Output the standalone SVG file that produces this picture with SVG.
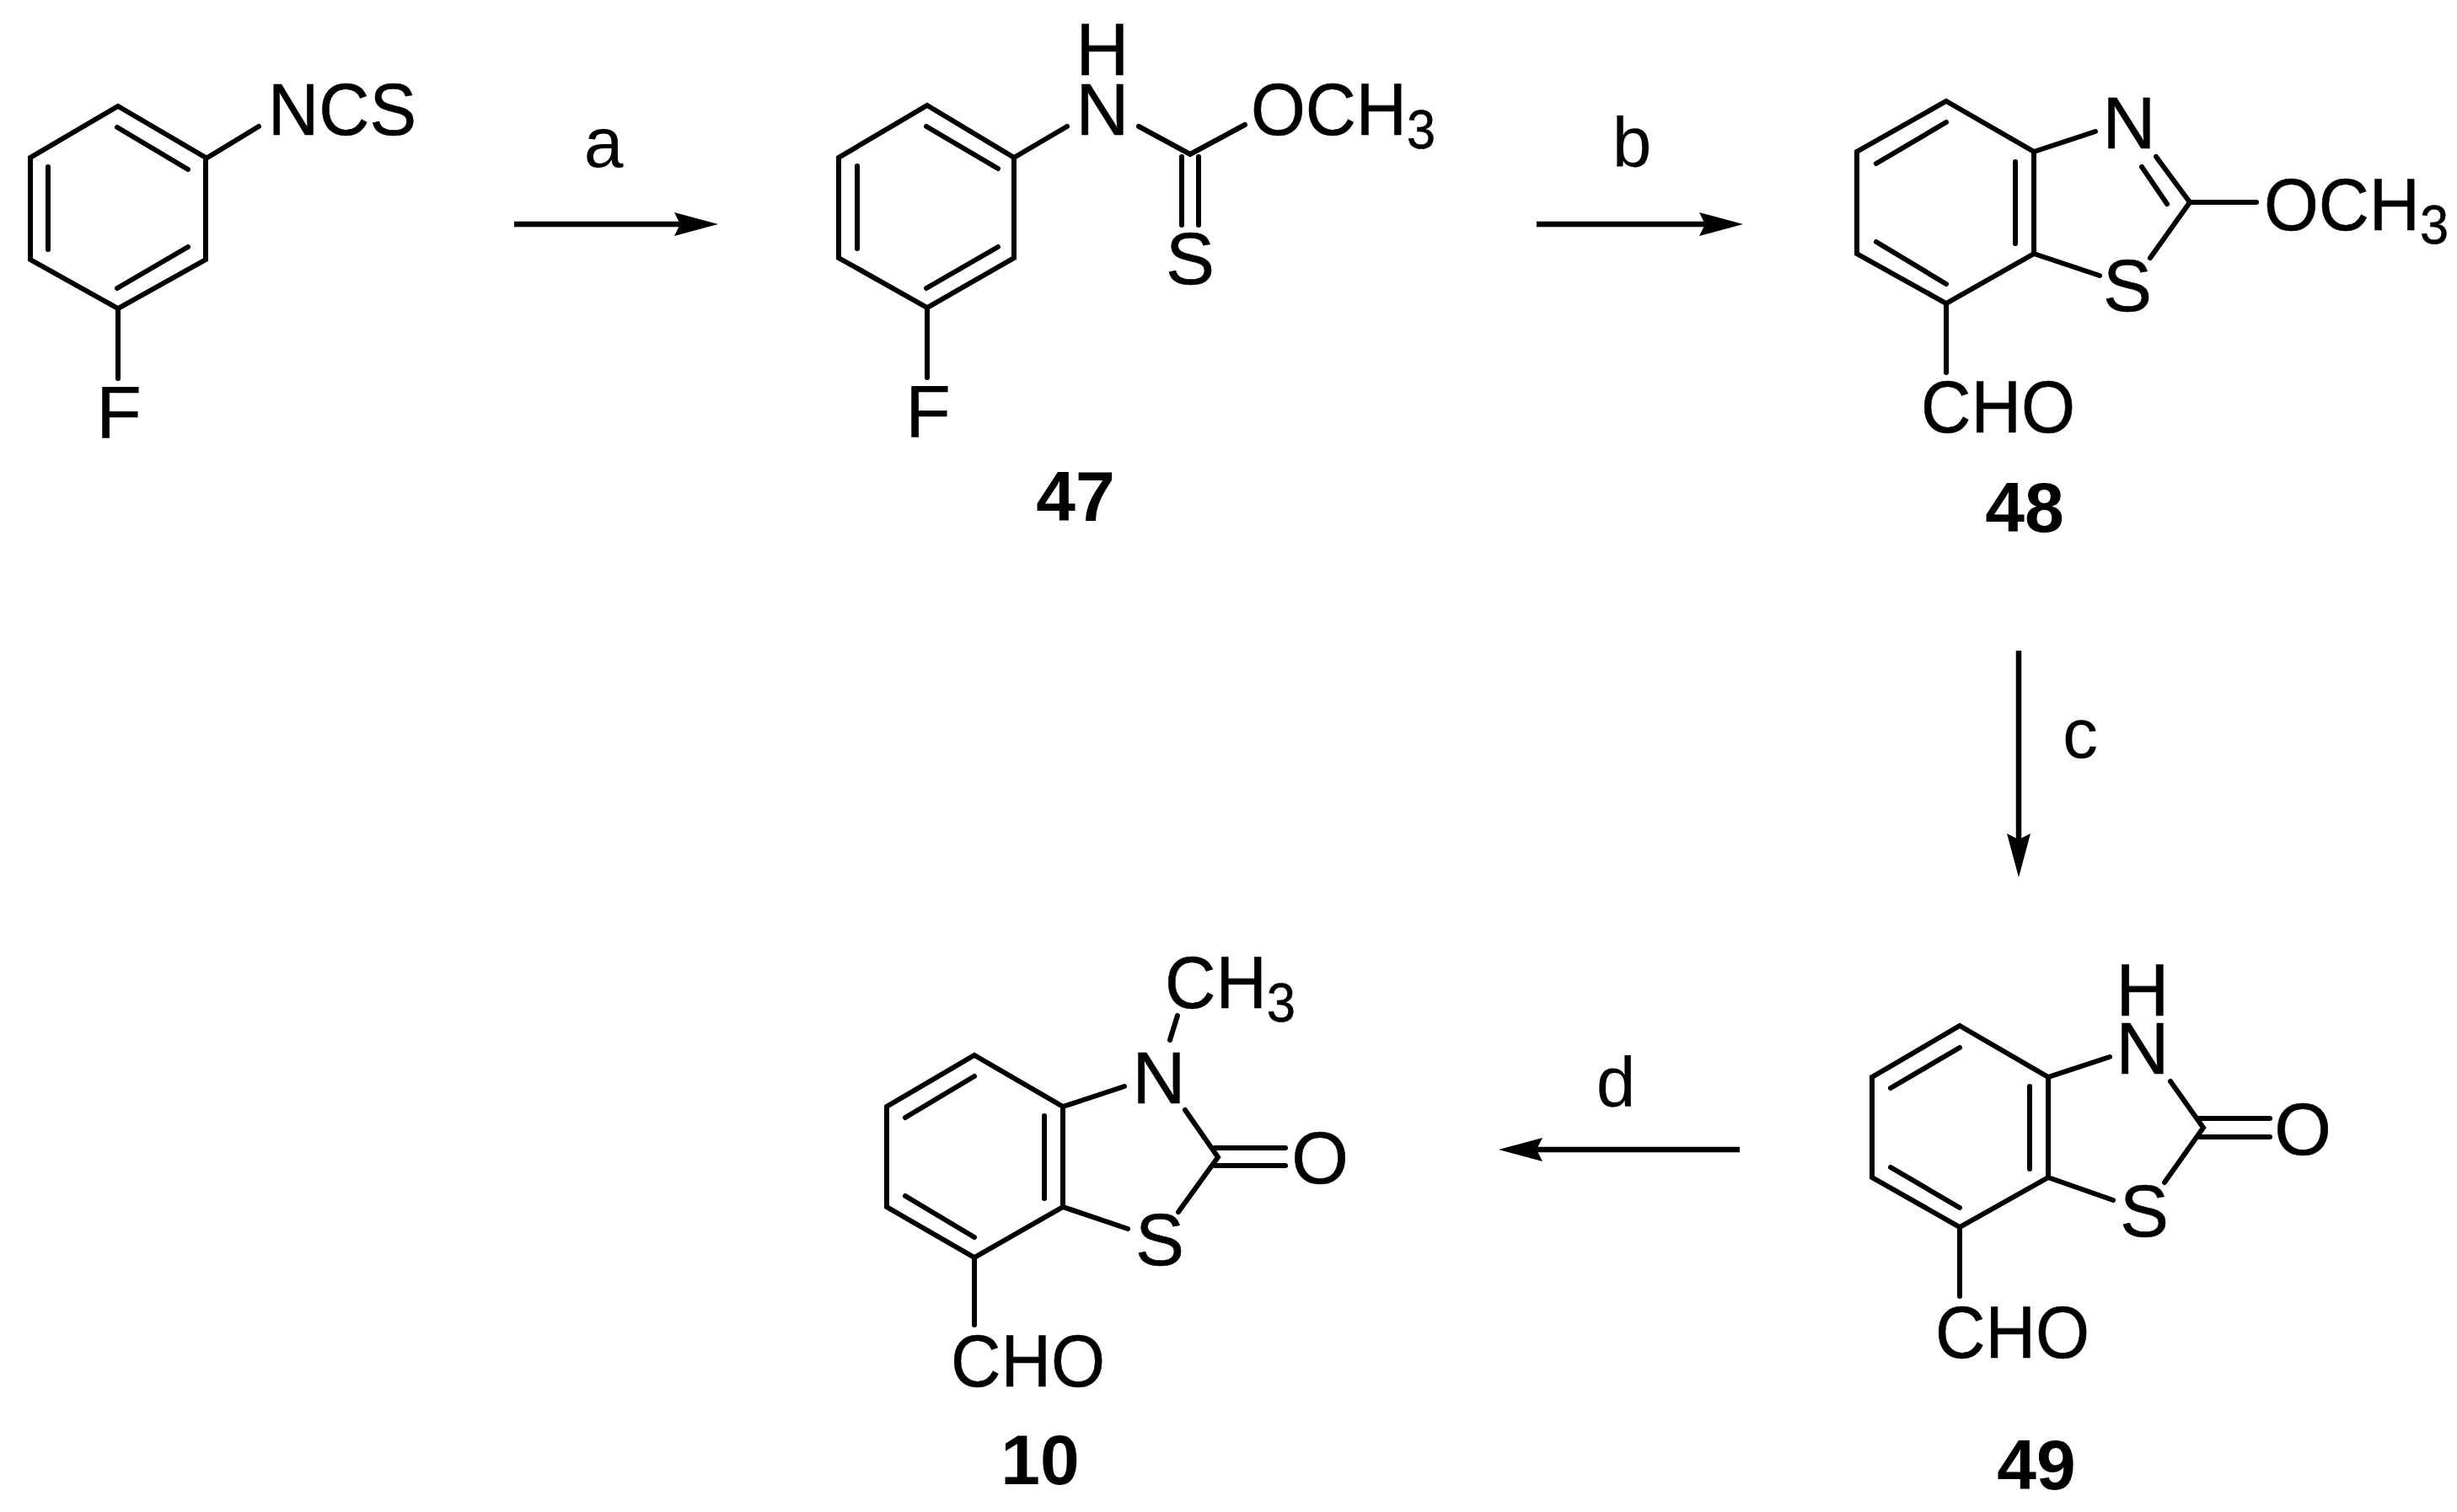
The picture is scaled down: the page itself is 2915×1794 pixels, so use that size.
<svg xmlns="http://www.w3.org/2000/svg" width="2915" height="1794" viewBox="0 0 2915 1794">
<style>
.b{stroke:#000;stroke-width:6;fill:none;stroke-linecap:round;stroke-linejoin:miter}
.a{stroke:#000;stroke-width:6.5;fill:none}
text{font-family:"Liberation Sans",Arial,sans-serif;fill:#000}
.l{font-size:84px;text-anchor:middle}
.t{font-size:87px;stroke:#000;stroke-width:.6px}
.m{font-size:87px;text-anchor:middle;stroke:#000;stroke-width:.6px}
.n{font-size:84px;font-weight:bold;text-anchor:middle}
.s{font-size:64px}
</style>
<defs>
<marker id="head" markerUnits="userSpaceOnUse" markerWidth="52" markerHeight="30" refX="7" refY="14.5" orient="auto">
<path d="M0,0.5 L52,14.5 L0,28.5 L7,14.5 Z" fill="#000"/>
</marker>
</defs>
<rect width="2915" height="1794" fill="#fff"/>
<g id="connectors">
<line class="a" x1="610" y1="266" x2="807" y2="266" marker-end="url(#head)"/>
<line class="a" x1="1823" y1="266" x2="2023" y2="266" marker-end="url(#head)"/>
<line class="a" x1="2395" y1="772" x2="2395" y2="996" marker-end="url(#head)"/>
<line class="a" x1="2064" y1="1364" x2="1823" y2="1364" marker-end="url(#head)"/>
<text class="l" x="716" y="198">a</text>
<text class="l" x="1936" y="198">b</text>
<text class="l" x="2468" y="899">c</text>
<text class="l" x="1917" y="1313">d</text>
</g>
<g id="isothiocyanate">
<path class="b" d="M140,126 L244,187 V308 L140,366 L36,308 V187 Z"/>
<path class="b" d="M139,151 L223,201 M57,198 V296 M223,293 L139,342 M140,366 V449 M246,187 L307,150"/>
<text class="t" x="318" y="160" textLength="176" lengthAdjust="spacingAndGlyphs">NCS</text>
<text class="m" x="141" y="519">F</text>
</g>
<g id="compound-47">
<path class="b" d="M1100,125 L1203,187 V306 L1100,365 L995,306 V187 Z"/>
<path class="b" d="M1099,150 L1184,200 M1017,197 V295 M1184,293 L1099,342 M1100,365 V448 M1203,187 L1266,150 M1351,150 L1412,183 L1477,148 M1402,186 V267 M1422,186 V267"/>
<text class="m" x="1308" y="89">H</text>
<text class="m" x="1308" y="160">N</text>
<text class="t" x="1484" y="160" textLength="219" lengthAdjust="spacingAndGlyphs">OCH<tspan class="s" dy="16">3</tspan></text>
<text class="m" x="1412" y="337">S</text>
<text class="m" x="1101" y="518">F</text>
<text class="n" x="1276" y="618">47</text>
</g>
<g id="compound-48">
<path class="b" d="M2309,120 L2413,180 V301 L2309,360 L2203,301 V180 Z"/>
<path class="b" d="M2226,194 L2309,145 M2391,192 V289 M2226,287 L2309,337 M2309,360 V442 M2413,180 L2486,156 M2558,186 L2598,240 M2541,198 L2571,242 M2598,240 H2677 M2598,240 L2551,306 M2413,301 L2491,327"/>
<text class="m" x="2526" y="176">N</text>
<text class="t" x="2686" y="273" textLength="219" lengthAdjust="spacingAndGlyphs">OCH<tspan class="s" dy="16">3</tspan></text>
<text class="m" x="2524" y="369">S</text>
<text class="t" x="2279" y="513" textLength="183" lengthAdjust="spacingAndGlyphs">CHO</text>
<text class="n" x="2402" y="631">48</text>
</g>
<g id="compound-49">
<path class="b" d="M2325,1217 L2430,1278 V1397 L2325,1456 L2221,1397 V1278 Z"/>
<path class="b" d="M2243,1291 L2325,1243 M2408,1289 V1387 M2243,1385 L2325,1433 M2325,1456 V1538 M2430,1278 L2503,1254 M2575,1283 L2614,1338 L2568,1403 M2610,1327 H2693 M2610,1349 H2693 M2430,1397 L2507,1424"/>
<text class="m" x="2542" y="1205">H</text>
<text class="m" x="2542" y="1274">N</text>
<text class="m" x="2732" y="1370">O</text>
<text class="m" x="2544" y="1467">S</text>
<text class="t" x="2296" y="1611" textLength="183" lengthAdjust="spacingAndGlyphs">CHO</text>
<text class="n" x="2416" y="1767">49</text>
</g>
<g id="compound-10">
<path class="b" d="M1156,1252 L1261,1313 V1432 L1156,1492 L1052,1432 V1313 Z"/>
<path class="b" d="M1074,1326 L1156,1277 M1239,1324 V1422 M1074,1419 L1156,1468 M1156,1492 V1572 M1261,1313 L1334,1289 M1388,1234 L1397,1205 M1406,1317 L1445,1373 L1398,1438 M1441,1362 H1525 M1441,1383 H1525 M1261,1432 L1338,1458"/>
<text class="t" x="1382" y="1196" textLength="155" lengthAdjust="spacingAndGlyphs">CH<tspan class="s" dy="16">3</tspan></text>
<text class="m" x="1375" y="1309">N</text>
<text class="m" x="1566" y="1404">O</text>
<text class="m" x="1376" y="1501">S</text>
<text class="t" x="1128" y="1645" textLength="183" lengthAdjust="spacingAndGlyphs">CHO</text>
<text class="n" x="1234" y="1761">10</text>
</g>
</svg>
